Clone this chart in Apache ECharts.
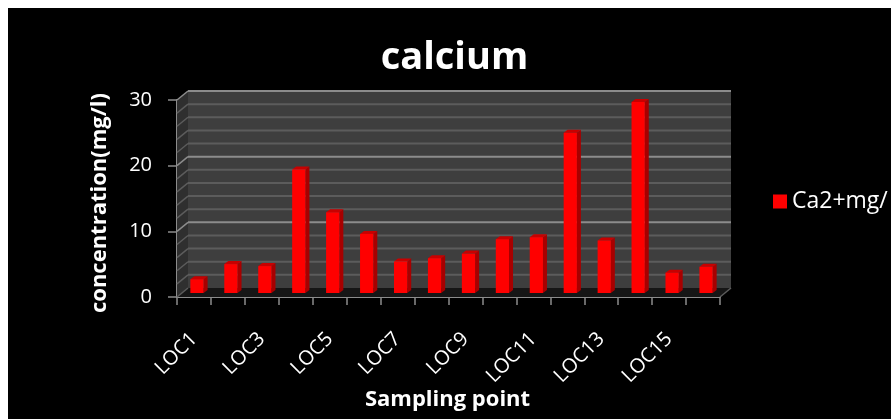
<!DOCTYPE html>
<html><head><meta charset="utf-8">
<script src="https://cdn.jsdelivr.net/npm/echarts@6/dist/echarts.min.js"></script>
<style>
html,body{margin:0;padding:0;width:891px;height:419px;overflow:hidden;background:#fff;}
#c{position:absolute;left:8px;top:8px;width:883px;height:411px;background:#000;}
</style></head>
<body><div id="c"></div>
<script>
const categories = ['LOC1','LOC2','LOC3','LOC4','LOC5','LOC6','LOC7','LOC8','LOC9','LOC10','LOC11','LOC12','LOC13','LOC14','LOC15','LOC16'];
const calcium = [2.1, 4.4, 4.1, 18.8, 12.3, 9.0, 4.8, 5.3, 6.0, 8.2, 8.5, 24.4, 8.0, 29.1, 3.1, 4.0];
const seriesName = 'Ca2+mg/';
const yTicks = [0, 10, 20, 30];

const FONT = '"Open Sans", "DejaVu Sans", sans-serif';
const DX = 11, DY = -9;

const chart = echarts.init(document.getElementById('c'), null, {renderer: 'canvas'});

function renderFrame(params, api) {
  const cs = params.coordSys;
  const x = cs.x, y = cs.y, w = cs.width, h = cs.height;
  const children = [];
  children.push({type:'polygon', shape:{points:[[x,y],[x+DX,y+DY],[x+DX,y+h+DY],[x,y+h]]}, style:{fill:'#2f2f2f'}});
  children.push({type:'rect', shape:{x:x+DX, y:y+DY, width:w, height:h}, style:{fill:'#3e3e3e'}});
  children.push({type:'polygon', shape:{points:[[x,y+h],[x+DX,y+h+DY],[x+w+DX,y+h+DY],[x+w,y+h]]}, style:{fill:'#161616'}});
  const maxV = yTicks[yTicks.length-1];
  for (let v = 2; v <= maxV; v += 2) {
    const yy = api.coord([0, v])[1];
    const major = v % 10 === 0;
    const col = major ? '#8c8c8c' : '#5c5c5c';
    children.push({type:'line', shape:{x1:x+DX, y1:yy+DY, x2:x+w+DX, y2:yy+DY}, style:{stroke:col, lineWidth:2}});
    children.push({type:'line', shape:{x1:x, y1:yy, x2:x+DX, y2:yy+DY}, style:{stroke:col, lineWidth:1.5}});
  }
  children.push({type:'line', shape:{x1:x, y1:y+h, x2:x+DX, y2:y+h+DY}, style:{stroke:'#5c5c5c', lineWidth:1.5}});
  children.push({type:'line', shape:{x1:x+w, y1:y+h, x2:x+w+DX, y2:y+h+DY}, style:{stroke:'#5c5c5c', lineWidth:1.5}});
  return {type:'group', children};
}

function renderBar(params, api) {
  const idx = api.value(0);
  const val = api.value(1);
  const top = api.coord([idx, val]);
  const base = api.coord([idx, 0]);
  const band = api.size([1, 0])[0];
  const bw = band * 0.39;
  const sx = 3, sy = -4, dd = 4, dh = -3;
  const xl = top[0] - bw/2 + sx, xr = top[0] + bw/2 + sx;
  const yt = top[1] + sy, yb = base[1] + sy;
  return {type:'group', children:[
    {type:'polygon', shape:{points:[[xr,yt],[xr+dd,yt+dh],[xr+dd,yb+dh],[xr,yb]]}, style:{fill:'#a80000'}},
    {type:'polygon', shape:{points:[[xl,yt],[xl+dd,yt+dh],[xr+dd,yt+dh],[xr,yt]]}, style:{fill:'#c80000'}},
    {type:'rect', shape:{x:xl, y:yt, width:xr-xl, height:yb-yt}, style:{fill:'#ff0000'}}
  ]};
}

const option = {
  backgroundColor: '#000',
  animation: false,
  textStyle: {fontFamily: FONT},
  legend: {
    left: 760, top: 177, icon: 'rect', itemWidth: 14, itemHeight: 14,
    textStyle: {color:'#fff', fontSize:23, fontFamily: FONT},
    data: [seriesName]
  },
  grid: {left: 169, top: 92, width: 543, height: 197, containLabel: false},
  xAxis: {
    type: 'category', data: categories, boundaryGap: true,
    axisLine: {show:true, lineStyle:{color:'#8c8c8c', width:2}},
    axisTick: {show:true, interval:0, length:8, lineStyle:{color:'#8c8c8c', width:1.5}},
    axisLabel: {interval:1, rotate:45, margin:39, color:'#fff', fontSize:20, fontFamily: FONT},
    splitLine: {show:false}
  },
  yAxis: {
    type: 'value', min: 0, max: 30, interval: 10,
    axisLine: {show:true, lineStyle:{color:'#8c8c8c', width:2}},
    axisTick: {show:true, length:9, lineStyle:{color:'#8c8c8c', width:1.5}},
    axisLabel: {margin:25, color:'#fff', fontSize:20, fontFamily: FONT, padding:[6,0,0,0]},
    splitLine: {show:false}
  },
  graphic: [
    {type:'text', x: 446.5, y: 50.5, style:{text:'calcium', fill:'#fff', font:'bold 38px ' + FONT, textAlign:'center', textVerticalAlign:'middle'}},
    {type:'text', rotation: Math.PI/2, x: 92, y: 195, style:{text:'concentration(mg/l)', fill:'#fff', font:'bold 22px ' + FONT, textAlign:'center', textVerticalAlign:'middle'}},
    {type:'text', x: 439.5, y: 391.5, style:{text:'Sampling point', fill:'#fff', font:'bold 22px ' + FONT, textAlign:'center', textVerticalAlign:'middle'}}
  ],
  series: [
    {type:'custom', name:'frame', silent:true, z:1, renderItem: renderFrame, data:[[0,0]], clip:false},
    {type:'custom', name: seriesName, z:3, itemStyle:{color:'#ff0000'}, renderItem: renderBar,
     data: calcium.map((v,i) => [i, v]), encode:{x:0, y:1}, clip:false}
  ]
};
chart.setOption(option);
</script></body></html>
